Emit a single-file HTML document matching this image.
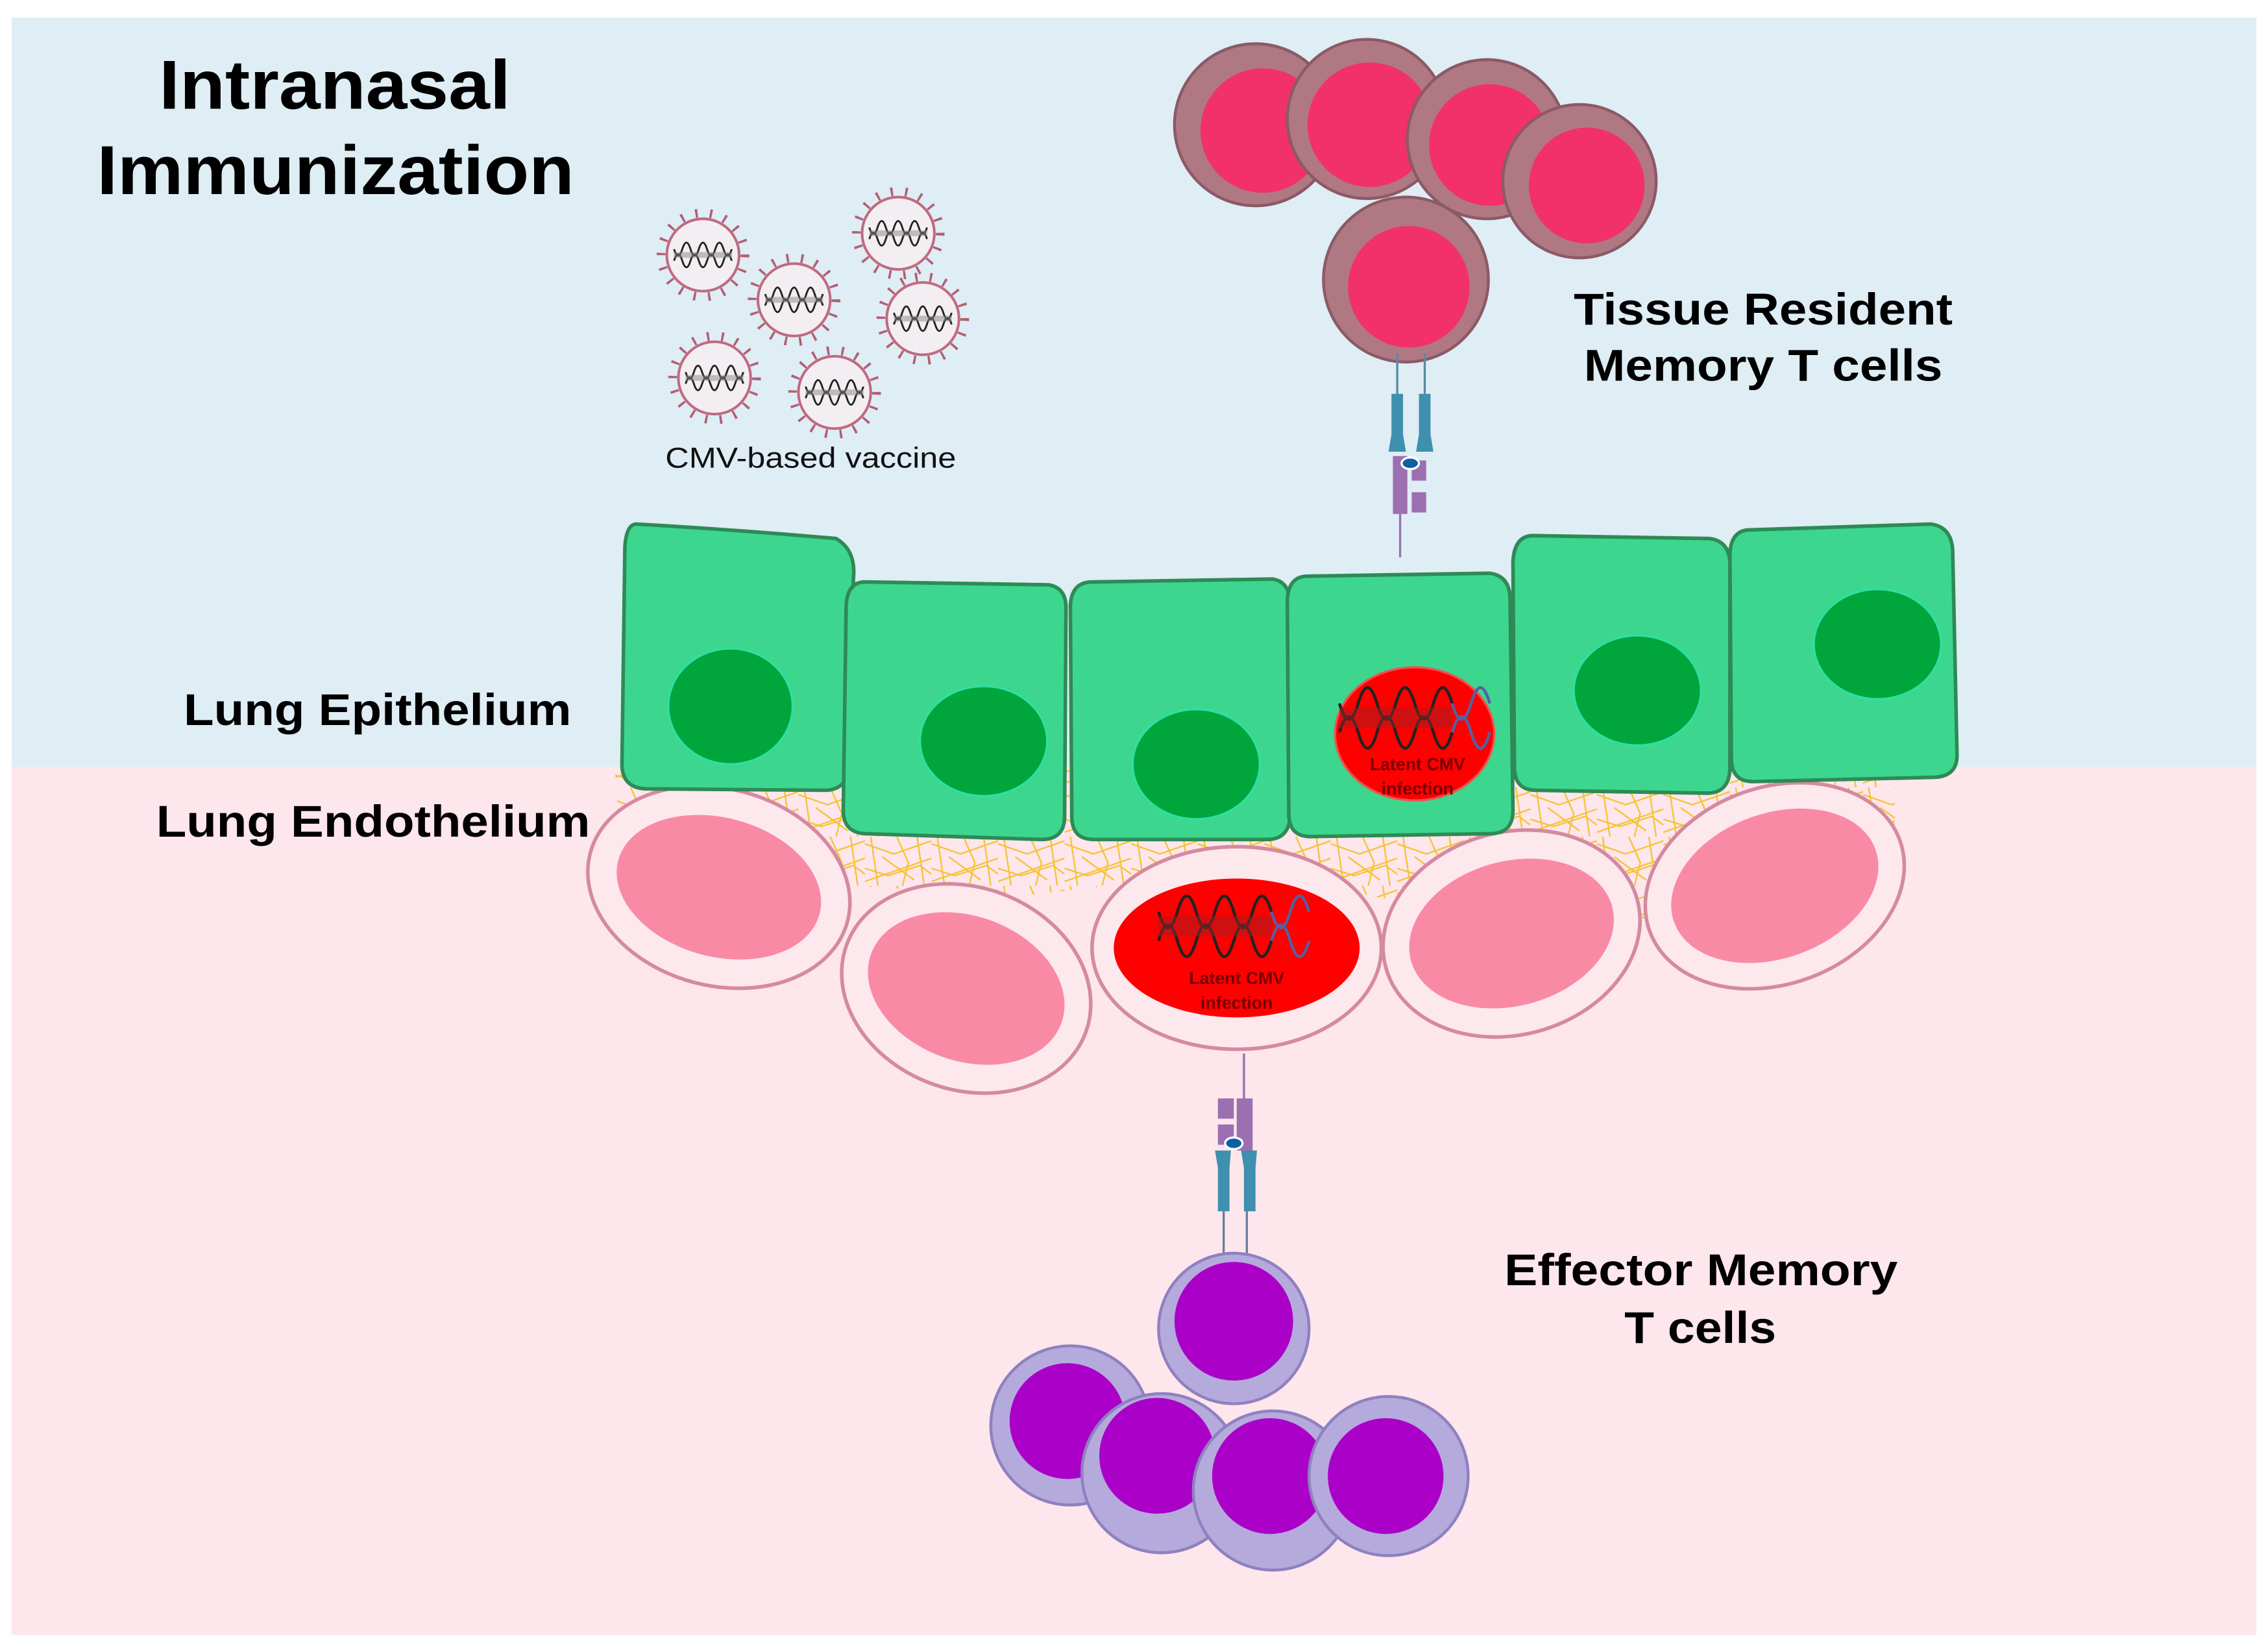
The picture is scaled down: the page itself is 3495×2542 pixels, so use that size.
<!DOCTYPE html>
<html><head><meta charset="utf-8"><style>
html,body{margin:0;padding:0;background:#fff;}
svg{display:block;}
text{font-family:"Liberation Sans",Arial,sans-serif;}
</style></head><body>
<svg width="3495" height="2542" viewBox="0 0 1568 1140" xmlns="http://www.w3.org/2000/svg">
<defs>
<pattern id="mesh" width="46" height="34" patternUnits="userSpaceOnUse">
<g stroke="#f5c230" stroke-width="1" fill="none">
<path d="M0,5 L20,12 L46,3"/><path d="M4,0 L9,34"/><path d="M22,0 L30,18 L26,34"/>
<path d="M0,22 L16,27 L38,20 L46,26"/><path d="M36,0 L41,34"/><path d="M12,14 L34,30"/>
<path d="M0,31 L46,15"/>
</g>
</pattern>
<g id="dnaS">
<path d="M-20,-4 q2.9,9 5.7,0 q2.9,-9 5.7,0 q2.9,9 5.7,0 q2.9,-9 5.7,0 q2.9,9 5.7,0 q2.9,-9 5.7,0 q2.9,9 5.7,0" stroke="#222" stroke-width="1.3" fill="none"/>
<path d="M-20,4 q2.9,-9 5.7,0 q2.9,9 5.7,0 q2.9,-9 5.7,0 q2.9,9 5.7,0 q2.9,-9 5.7,0 q2.9,9 5.7,0 q2.9,-9 5.7,0" stroke="#222" stroke-width="1.3" fill="none"/>
<rect x="-20" y="-2" width="40" height="4" fill="#888" opacity="0.5"/>
</g>
<g id="vir">
<circle r="29" fill="none" stroke="#b06070" stroke-width="6" stroke-dasharray="1.6 8.5"/>
<circle r="25" fill="#f3eef2" stroke="#c06a80" stroke-width="1.8"/>
<use href="#dnaS"/>
</g>
<g id="dnaL">
<path d="M-52,-10 q6.5,22 13,0 q6.5,-22 13,0 q6.5,22 13,0 q6.5,-22 13,0 q6.5,22 13,0 q6.5,-22 13,0" stroke="#222" stroke-width="2" fill="none"/>
<path d="M-52,10 q6.5,-22 13,0 q6.5,22 13,0 q6.5,-22 13,0 q6.5,22 13,0 q6.5,-22 13,0 q6.5,22 13,0" stroke="#222" stroke-width="2" fill="none"/>
<path d="M26,-10 q6.5,22 13,0 q6.5,-22 13,0 M26,10 q6.5,-22 13,0 q6.5,22 13,0" stroke="#5560a0" stroke-width="2" fill="none"/>
<rect x="-52" y="-7" width="78" height="14" fill="#a02020" opacity="0.5"/>
</g>
</defs>
<rect x="0" y="0" width="1568" height="1140" fill="#fff"/>
<rect x="8" y="12" width="1552" height="518" fill="#dfedf5"/>
<rect x="8" y="530" width="1552" height="600" fill="#fde6ec"/>

<path d="M425,530 L1310,530 L1310,610 L1200,640 L1000,630 L860,600 L700,620 L430,600Z" fill="url(#mesh)"/>

<!-- endothelium -->
<g stroke="#d48aa0" stroke-width="2.5">
<g transform="translate(497,613) rotate(15)"><ellipse rx="92" ry="68" fill="#fde8ee"/><ellipse rx="72" ry="48" fill="#f98aa6" stroke="none"/></g>
<g transform="translate(668,683) rotate(20)"><ellipse rx="88" ry="70" fill="#fde8ee"/><ellipse rx="70" ry="50" fill="#f98aa6" stroke="none"/></g>
<g transform="translate(1045,645) rotate(-15)"><ellipse rx="90" ry="70" fill="#fde8ee"/><ellipse rx="72" ry="50" fill="#f98aa6" stroke="none"/></g>
<g transform="translate(1227,612) rotate(-20)"><ellipse rx="92" ry="68" fill="#fde8ee"/><ellipse rx="74" ry="50" fill="#f98aa6" stroke="none"/></g>
<g transform="translate(855,655)"><ellipse rx="100" ry="70" fill="#fde8ee"/><ellipse rx="85" ry="48" fill="#ff0000" stroke="none"/></g>
</g>
<use href="#dnaL" x="853" y="640"/>
<text x="855" y="680" font-size="12" font-weight="bold" fill="#700" text-anchor="middle">Latent CMV</text>
<text x="855" y="697" font-size="12" font-weight="bold" fill="#700" text-anchor="middle">infection</text>

<!-- epithelium -->
<g fill="#3dd68f" stroke="#2e8a55" stroke-width="2.5">
<path d="M440,362 Q510,366 578,372 Q592,380 590,400 L588,530 Q585,546 570,546 L446,545 Q430,544 430,528 L432,378 Q433,362 440,362Z"/>
<path d="M598,402 L725,404 Q737,406 737,420 L736,566 Q735,580 720,580 L598,576 Q583,575 583,560 L585,418 Q586,402 598,402Z"/>
<path d="M755,402 L880,400 Q892,402 892,418 L892,564 Q891,580 876,580 L756,580 Q741,580 741,564 L740,418 Q741,402 755,402Z"/>
<path d="M904,398 L1030,396 Q1044,398 1044,414 L1046,560 Q1046,576 1030,576 L906,578 Q891,578 891,562 L890,414 Q891,398 904,398Z"/>
<path d="M1060,370 L1182,372 Q1196,374 1196,390 L1196,532 Q1195,548 1180,548 L1062,546 Q1047,546 1047,530 L1046,388 Q1047,370 1060,370Z"/>
<path d="M1210,366 L1335,362 Q1349,364 1350,380 L1353,522 Q1353,536 1338,537 L1212,540 Q1197,540 1197,524 L1196,382 Q1197,366 1210,366Z"/>
</g>
<g fill="#00a53c" stroke="#2ee0a0" stroke-width="1.5">
<ellipse cx="505" cy="488" rx="43" ry="40"/>
<ellipse cx="680" cy="512" rx="44" ry="38"/>
<ellipse cx="827" cy="528" rx="44" ry="38"/>
<ellipse cx="1132" cy="477" rx="44" ry="38"/>
<ellipse cx="1298" cy="445" rx="44" ry="38"/>
</g>
<ellipse cx="978" cy="507" rx="55" ry="46" fill="#ff0000" stroke="#f05050" stroke-width="1.5"/>
<use href="#dnaL" x="978" y="496"/>
<text x="980" y="532" font-size="12" font-weight="bold" fill="#700" text-anchor="middle">Latent CMV</text>
<text x="980" y="549" font-size="12" font-weight="bold" fill="#700" text-anchor="middle">infection</text>

<!-- viruses -->
<use href="#vir" x="486" y="176"/>
<use href="#vir" x="549" y="207"/>
<use href="#vir" x="621" y="161"/>
<use href="#vir" x="638" y="220"/>
<use href="#vir" x="494" y="261"/>
<use href="#vir" x="577" y="271"/>
<text x="460" y="323" font-size="20" fill="#111" textLength="201" lengthAdjust="spacingAndGlyphs">CMV-based vaccine</text>

<!-- TRM cells -->
<g stroke="#8a5a66" stroke-width="2">
<circle cx="868" cy="86" r="56" fill="#b07882"/><circle cx="873" cy="90" r="43" fill="#f2306a" stroke="none"/>
<circle cx="945" cy="82" r="55" fill="#b07882"/><circle cx="947" cy="86" r="43" fill="#f2306a" stroke="none"/>
<circle cx="1028" cy="96" r="55" fill="#b07882"/><circle cx="1030" cy="100" r="42" fill="#f2306a" stroke="none"/>
<circle cx="1092" cy="125" r="53" fill="#b07882"/><circle cx="1097" cy="128" r="40" fill="#f2306a" stroke="none"/>
<circle cx="972" cy="193" r="57" fill="#b07882"/><circle cx="974" cy="198" r="42" fill="#f2306a" stroke="none"/>
</g>
<!-- top receptor -->
<g>
<line x1="966" y1="244" x2="966" y2="272" stroke="#5a8aa0" stroke-width="1.5"/>
<line x1="985" y1="244" x2="985" y2="272" stroke="#5a8aa0" stroke-width="1.5"/>
<rect x="963" y="315" width="10" height="40" fill="#9b6fb0"/>
<rect x="976" y="318" width="10" height="14" fill="#9b6fb0"/>
<rect x="976" y="340" width="10" height="14" fill="#9b6fb0"/>
<path d="M962,272 h8 v28 l2,12 h-12 l2,-12z" fill="#3f8fae"/>
<path d="M981,272 h8 v28 l2,12 h-12 l2,-12z" fill="#3f8fae"/>
<ellipse cx="975" cy="320" rx="6" ry="4" fill="#0a5fa5" stroke="#fff" stroke-width="1.5"/>
<line x1="968" y1="355" x2="968" y2="385" stroke="#9b6fb0" stroke-width="1.5"/>
</g>
<!-- bottom receptor -->
<g>
<line x1="860" y1="728" x2="860" y2="762" stroke="#9b6fb0" stroke-width="1.5"/>
<rect x="842" y="759" width="11" height="14" fill="#9b6fb0"/>
<rect x="842" y="777" width="11" height="14" fill="#9b6fb0"/>
<rect x="855" y="759" width="11" height="36" fill="#9b6fb0"/>
<path d="M840,795 h11 l-1,12 v30 h-8 v-30z" fill="#3f8fae"/>
<path d="M858,795 h11 l-1,12 v30 h-8 v-30z" fill="#3f8fae"/>
<ellipse cx="853" cy="790" rx="6" ry="4" fill="#0a5fa5" stroke="#fff" stroke-width="1.5"/>
<line x1="846" y1="837" x2="846" y2="870" stroke="#6b7f9a" stroke-width="1.5"/>
<line x1="862" y1="837" x2="862" y2="870" stroke="#6b7f9a" stroke-width="1.5"/>
</g>
<!-- TEM cells -->
<g stroke="#8f80c0" stroke-width="2">
<circle cx="853" cy="918" r="52" fill="#b5aadc"/><circle cx="853" cy="913" r="41" fill="#aa00c8" stroke="none"/>
<circle cx="740" cy="985" r="55" fill="#b5aadc"/><circle cx="738" cy="982" r="40" fill="#aa00c8" stroke="none"/>
<circle cx="803" cy="1018" r="55" fill="#b5aadc"/><circle cx="800" cy="1006" r="40" fill="#aa00c8" stroke="none"/>
<circle cx="880" cy="1030" r="55" fill="#b5aadc"/><circle cx="878" cy="1020" r="40" fill="#aa00c8" stroke="none"/>
<circle cx="960" cy="1020" r="55" fill="#b5aadc"/><circle cx="958" cy="1020" r="40" fill="#aa00c8" stroke="none"/>
</g>

<!-- labels -->
<g font-weight="bold" fill="#000" lengthAdjust="spacingAndGlyphs">
<text x="110" y="75" font-size="48" textLength="243" lengthAdjust="spacingAndGlyphs">Intranasal</text>
<text x="67" y="134" font-size="48" textLength="330" lengthAdjust="spacingAndGlyphs">Immunization</text>
<text x="1088" y="224" font-size="31" textLength="262" lengthAdjust="spacingAndGlyphs">Tissue Resident</text>
<text x="1095" y="263" font-size="31" textLength="248" lengthAdjust="spacingAndGlyphs">Memory T cells</text>
<text x="127" y="501" font-size="31" textLength="268" lengthAdjust="spacingAndGlyphs">Lung Epithelium</text>
<text x="108" y="578" font-size="31" textLength="300" lengthAdjust="spacingAndGlyphs">Lung Endothelium</text>
<text x="1040" y="888" font-size="31" textLength="272" lengthAdjust="spacingAndGlyphs">Effector Memory</text>
<text x="1123" y="928" font-size="31" textLength="105" lengthAdjust="spacingAndGlyphs">T cells</text>
</g>
</svg>
</body></html>
